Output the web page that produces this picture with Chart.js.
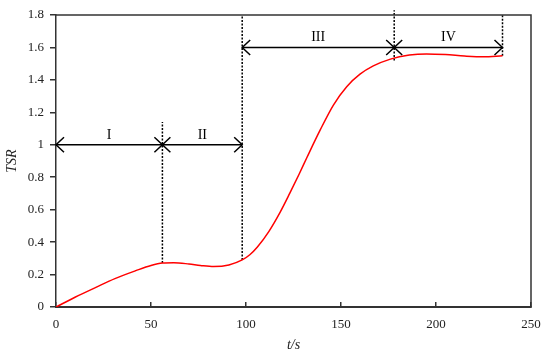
<!DOCTYPE html>
<html>
<head>
<meta charset="utf-8">
<script src="https://cdn.jsdelivr.net/npm/chart.js@4/dist/chart.umd.min.js"></script>
<style>
  html, body { margin: 0; padding: 0; background: #fff; }
  #wrap { width: 550px; height: 361px; }
</style>
</head>
<body>
<div id="wrap"><canvas id="tsrChart"></canvas></div>
<script>
// TSR curve
const tValues = [0, 10, 21, 31, 42, 50, 56, 62, 70, 76, 83, 91, 98, 102, 106, 112, 118, 123, 128, 132, 139, 146, 153, 160, 167, 176, 186, 195, 205, 215, 225, 235];
const tsrValues = [0, 0.06, 0.121, 0.175, 0.224, 0.256, 0.271, 0.273, 0.265, 0.256, 0.249, 0.259, 0.29, 0.322, 0.37, 0.465, 0.585, 0.70, 0.82, 0.92, 1.09, 1.245, 1.358, 1.435, 1.486, 1.528, 1.553, 1.56, 1.556, 1.547, 1.542, 1.549];

// stage boundaries (dotted lines)
const dashX = [56, 98, 178, 235];
const dashLow = [0.271, 0.29, 1.52, 1.549];
const dashHigh = [1.14, 1.8, 1.83, 1.8];

// stage arrows
const stageNames = ['I', 'II', 'III', 'IV'];
const arrowFrom = [0, 56, 98, 178];
const arrowTo = [56, 98, 178, 235];
const arrowY = [1, 1, 1.6, 1.6];

const xTicks = [0, 50, 100, 150, 200, 250];

const datasets = [{
  data: tValues.map((t, i) => ({x: t, y: tsrValues[i]})),
  borderColor: '#ff0000',
  borderWidth: 1.5,
  pointRadius: 0,
  cubicInterpolationMode: 'monotone'
}];

dashX.forEach((x, i) => {
  datasets.push({
    data: [{x: x, y: dashLow[i]}, {x: x, y: dashHigh[i]}],
    borderColor: '#000',
    borderWidth: 1.5,
    borderDash: [2, 1.5],
    pointRadius: 0,
    clip: false
  });
});

arrowFrom.forEach((x, i) => {
  datasets.push({
    data: [{x: x, y: arrowY[i]}, {x: arrowTo[i], y: arrowY[i]}],
    borderColor: '#000',
    borderWidth: 1.5,
    pointRadius: 0
  });
});

const serif = '"Liberation Serif", "Times New Roman", serif';

const extras = {
  id: 'extras',
  afterDatasetsDraw(chart) {
    const c = chart.ctx;
    const xs = chart.scales.x, ys = chart.scales.y;
    const a = chart.chartArea;
    c.save();
    // frame on top and right
    c.strokeStyle = '#333';
    c.lineWidth = 1.5;
    c.beginPath();
    c.moveTo(a.left, a.top);
    c.lineTo(a.right, a.top);
    c.lineTo(a.right, a.bottom);
    c.stroke();

    // arrow heads
    c.strokeStyle = '#000';
    c.lineWidth = 1.5;
    const L = 8, W = 7.5;
    arrowFrom.forEach((x, i) => {
      const x0 = xs.getPixelForValue(x);
      const x1 = xs.getPixelForValue(arrowTo[i]);
      const y = ys.getPixelForValue(arrowY[i]);
      c.beginPath();
      c.moveTo(x0 + L, y - W); c.lineTo(x0, y); c.lineTo(x0 + L, y + W);
      c.moveTo(x1 - L, y - W); c.lineTo(x1, y); c.lineTo(x1 - L, y + W);
      c.stroke();
    });

    // stage names
    c.fillStyle = '#000';
    c.font = '14px ' + serif;
    c.textAlign = 'center';
    c.textBaseline = 'alphabetic';
    stageNames.forEach((s, i) => {
      const xm = xs.getPixelForValue((arrowFrom[i] + arrowTo[i]) / 2);
      const y = ys.getPixelForValue(arrowY[i]);
      c.fillText(s, xm, y - 6);
    });
    c.restore();
  }
};

new Chart(document.getElementById('tsrChart'), {
  type: 'line',
  data: {datasets: datasets},
  options: {
    responsive: true,
    maintainAspectRatio: false,
    animation: false,
    layout: {padding: {top: 15, right: 19, left: 0, bottom: 0}},
    plugins: {legend: {display: false}, tooltip: {enabled: false}},
    scales: {
      x: {
        type: 'linear',
        min: 0,
        max: 250,
        afterBuildTicks: s => { s.ticks = xTicks.map(v => ({value: v})); },
        afterFit: s => { s.height = 54; s.paddingLeft = 0; s.paddingRight = 0; },
        grid: {drawOnChartArea: false, tickLength: -5, color: '#333', lineWidth: 1.5},
        border: {color: '#333', width: 2},
        ticks: {color: '#222', font: {family: serif, size: 13}, padding: 15, maxRotation: 0},
        title: {display: true, text: 't/s', color: '#222', font: {family: serif, size: 14, style: 'italic'}, padding: {top: 0, bottom: 7}}
      },
      y: {
        min: 0,
        max: 1.8,
        ticks: {
          stepSize: 0.2, color: '#222', font: {family: serif, size: 13}, padding: 6,
          callback: v => String(Math.round(v * 10) / 10)
        },
        afterFit: s => { s.width = 56; },
        grid: {drawOnChartArea: false, tickLength: 6, color: '#333', lineWidth: 1.5},
        border: {color: '#333', width: 1.5},
        title: {display: true, text: 'TSR', color: '#222', font: {family: serif, size: 14, style: 'italic'}, padding: {top: 4, bottom: 0}}
      }
    }
  },
  plugins: [extras]
});
</script>
</body>
</html>
